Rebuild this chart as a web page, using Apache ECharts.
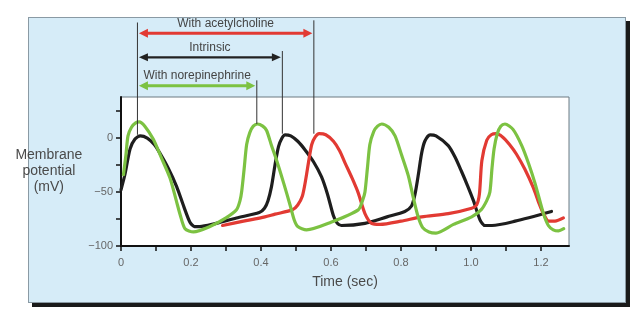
<!DOCTYPE html>
<html>
<head>
<meta charset="utf-8">
<script src="https://cdn.jsdelivr.net/npm/echarts@6/dist/echarts.min.js"></script>
<style>
  html, body { margin: 0; padding: 0; background: #ffffff; }
  #panel { position: absolute; left: 28px; top: 17px; width: 596px; height: 284px;
           background: #d6ecf8; border: 1px solid #8a9aa4; box-shadow: 4px 4px 0 #1a1a1a; }
  #chart { position: absolute; left: 0; top: 0; width: 641px; height: 323px; }
</style>
</head>
<body>
<div id="panel"></div>
<div id="chart"></div>
<script>
// ---- data (time in s, membrane potential in mV) ----
const intrinsic = [
  [0.000,-48],[0.011,-34],[0.026,-10],[0.040,-1],[0.055,2],[0.075,0],[0.095,-6],[0.111,-14],
  [0.135,-28],[0.159,-45],[0.180,-64],[0.197,-78],[0.210,-82],[0.225,-82],[0.260,-80],[0.330,-74],
  [0.395,-69],[0.410,-65],[0.420,-58],[0.430,-45],[0.440,-25],[0.450,-8],[0.460,0],[0.469,3],
  [0.485,2],[0.505,-3],[0.526,-11],[0.550,-22],[0.573,-36],[0.590,-52],[0.607,-72],[0.618,-79],
  [0.630,-81],[0.697,-79],[0.760,-73],[0.811,-68],[0.830,-63],[0.840,-52],[0.849,-35],[0.859,-14],
  [0.868,-3],[0.883,3],[0.900,2],[0.935,-7],[0.955,-18],[0.973,-31],[0.990,-44],[1.007,-58],
  [1.026,-76],[1.040,-81],[1.060,-81],[1.126,-77],[1.230,-68]
];
const acetylcholine = [
  [0.290,-81],[0.350,-77],[0.411,-73],[0.440,-70.5],[0.490,-66.5],[0.505,-62],[0.518,-54],[0.528,-38],
  [0.537,-20],[0.545,-6],[0.555,1],[0.566,4],[0.585,3],[0.607,-3],[0.625,-12],[0.640,-23],
  [0.660,-37],[0.678,-51],[0.697,-70],[0.716,-79],[0.740,-80],[0.800,-77],[0.859,-73],[0.935,-70],
  [1.002,-65],[1.016,-62],[1.024,-52],[1.031,-21],[1.045,-2],[1.058,3],[1.072,4],[1.090,1],
  [1.110,-6],[1.130,-15],[1.154,-29],[1.178,-46],[1.195,-61],[1.207,-70],[1.222,-77],[1.240,-77],
  [1.264,-74]
];
const norepinephrine = [
  [0.007,-34],[0.014,-16],[0.020,2],[0.030,10],[0.042,14],[0.052,15],[0.068,11],[0.092,-1],
  [0.115,-18],[0.140,-37],[0.158,-58],[0.169,-71],[0.183,-84],[0.207,-87],[0.254,-82],[0.300,-74],
  [0.330,-66.5],[0.340,-58],[0.345,-49],[0.352,-28],[0.359,-6],[0.368,5],[0.378,11],[0.390,13],
  [0.405,11],[0.416,7],[0.430,-7],[0.445,-21],[0.465,-42],[0.483,-62],[0.495,-76],[0.505,-82],
  [0.530,-85],[0.600,-78],[0.678,-66.5],[0.690,-58],[0.697,-50],[0.704,-28],[0.711,-6],[0.722,6],
  [0.733,11],[0.745,13],[0.765,10],[0.783,2],[0.802,-16],[0.821,-35],[0.835,-55],[0.849,-73],
  [0.862,-83],[0.880,-87],[0.900,-88],[0.950,-80],[1.002,-73],[1.030,-66],[1.045,-58],[1.054,-50],
  [1.060,-28],[1.066,-10],[1.075,4],[1.085,11],[1.097,13],[1.120,8],[1.145,-7],[1.165,-24],
  [1.183,-42],[1.207,-70],[1.221,-81],[1.235,-85],[1.250,-86],[1.265,-84]
];
const xTickValues = [0,0.1,0.2,0.3,0.4,0.5,0.6,0.7,0.8,0.9,1.0,1.1,1.2];
const xLabelValues = [0,0.2,0.4,0.6,0.8,1.0,1.2];
const yTickValues = [-100,-75,-50,-25,0,25];
const yLabelValues = [-100,-50,0];
// annotations: label, start time, end time, arrow level (mV, above plot), end-line bottom (mV), colour
const annotLabels = ['With acetylcholine','Intrinsic','With norepinephrine'];
const annotStart = 0.047;
const annotStartTop = 107;
const annotStartBottom = 3;
const annotEnds = [0.551, 0.461, 0.388];
const annotLevels = [97, 74.7, 48.5];
const annotEndTops = [109, 80.6, 53.4];
const annotEndBottoms = [4, 4, 13];
const annotColors = ['#e23a33', '#222222', '#7cc242'];

const FONT = '"Liberation Sans", Arial, sans-serif';
const chart = echarts.init(document.getElementById('chart'), null, {renderer: 'canvas'});

function lineSeries(name, data, color, z) {
  return {
    name, type: 'line', data, showSymbol: false, smooth: 0.25, z,
    lineStyle: {color, width: 3.2, cap: 'round', join: 'round'},
    emphasis: {disabled: true}, animation: false
  };
}

chart.setOption({
  animation: false,
  grid: {left: 121, right: 72, top: 97, bottom: 77, show: true, backgroundColor: '#ffffff',
         borderColor: '#6d7a82', borderWidth: 1},
  xAxis: {
    type: 'value', min: 0, max: 1.28,
    name: 'Time (sec)', nameLocation: 'middle', nameGap: 29,
    nameTextStyle: {fontFamily: FONT, fontSize: 14, color: '#4a4a4a'},
    axisLine: {onZero: false, lineStyle: {color: '#111', width: 2}},
    axisTick: {show: true, customValues: xTickValues, length: 5, lineStyle: {color: '#111', width: 1.5}},
    axisLabel: {customValues: xLabelValues, margin: 11, fontFamily: FONT, fontSize: 11, color: '#666',
                formatter: v => (v === 0 ? '0' : v.toFixed(1))},
    splitLine: {show: false}
  },
  yAxis: {
    type: 'value', min: -100, max: 38,
    name: 'Membrane\npotential\n(mV)', nameLocation: 'middle', nameRotate: 0, nameGap: 48,
    nameTextStyle: {fontFamily: FONT, fontSize: 14, color: '#4a4a4a', align: 'center', lineHeight: 16},
    axisLine: {show: true, onZero: false, lineStyle: {color: '#111', width: 2}},
    axisTick: {show: true, customValues: yTickValues, length: 5, lineStyle: {color: '#111', width: 1.5}},
    axisLabel: {customValues: yLabelValues, margin: 8, fontFamily: FONT, fontSize: 11, color: '#666',
                formatter: v => String(v).replace('-', '\u2212')},
    splitLine: {show: false}
  },
  series: [
    lineSeries('Intrinsic', intrinsic, '#1e1e1e', 2),
    lineSeries('With acetylcholine', acetylcholine, '#e23a33', 3),
    lineSeries('With norepinephrine', norepinephrine, '#7cc242', 4)
  ]
});

// build annotations from data coordinates
const P = (t, v) => chart.convertToPixel({gridIndex: 0}, [t, v]);
const g = [];
const thin = {stroke: '#333', lineWidth: 1};
{
  const a = P(annotStart, annotStartTop), b = P(annotStart, annotStartBottom);
  g.push({type: 'line', shape: {x1: a[0], y1: a[1], x2: b[0], y2: b[1]}, style: thin, z: 50});
}
annotLabels.forEach((label, i) => {
  const top = P(annotEnds[i], annotEndTops[i]), bot = P(annotEnds[i], annotEndBottoms[i]);
  g.push({type: 'line', shape: {x1: top[0], y1: top[1], x2: bot[0], y2: bot[1]}, style: thin, z: 50});
  const s = P(annotStart, annotLevels[i]), e = P(annotEnds[i], annotLevels[i]);
  const y = s[1], x1 = s[0] + 1.5, x2 = e[0] - 1.5, col = annotColors[i];
  const w = i === 1 ? 2.2 : 3, hl = 9, hh = i === 1 ? 4 : 4.5;
  g.push({type: 'line', shape: {x1: x1 + 5, y1: y, x2: x2 - 5, y2: y}, style: {stroke: col, lineWidth: w}, z: 51});
  g.push({type: 'polygon', shape: {points: [[x1, y], [x1 + hl, y - hh], [x1 + hl, y + hh]]}, style: {fill: col}, z: 51});
  g.push({type: 'polygon', shape: {points: [[x2, y], [x2 - hl, y - hh], [x2 - hl, y + hh]]}, style: {fill: col}, z: 51});
  g.push({type: 'text', x: (x1 + x2) / 2, y: y - 10,
          style: {text: label, fontFamily: FONT, fontSize: 12, fill: '#444', align: 'center', verticalAlign: 'middle'}, z: 52});
});
chart.setOption({graphic: g});
</script>
</body>
</html>
